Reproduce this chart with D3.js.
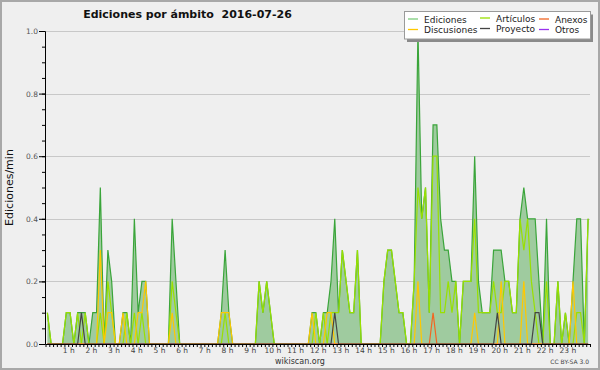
<!DOCTYPE html>
<html>
<head>
<meta charset="utf-8">
<script src="https://cdn.jsdelivr.net/npm/d3@7/dist/d3.min.js"></script>
<style>
  body { margin: 0; background: #fff; }
</style>
</head>
<body>
<div id="chart"></div>
<script>
const width = 600, height = 370;

// Edits per minute in 10-minute bins (144 bins = 24 h), 12 bins per row
const ediciones = [
  0.1, 0, 0, 0, 0, 0.1, 0.1, 0, 0.1, 0.1, 0.1, 0,
  0.1, 0.1, 0.5, 0, 0.3, 0.2, 0, 0, 0.1, 0.1, 0, 0.4,
  0.1, 0.2, 0.2, 0, 0, 0, 0, 0, 0, 0.4, 0.2, 0,
  0, 0, 0, 0, 0, 0, 0, 0, 0, 0, 0.1, 0.3,
  0.1, 0, 0, 0, 0, 0, 0, 0, 0.2, 0.1, 0.2, 0.1,
  0, 0, 0, 0, 0, 0, 0, 0, 0, 0, 0.1, 0.1,
  0, 0.1, 0.1, 0.2, 0.4, 0.1, 0.3, 0.2, 0.1, 0.1, 0.3, 0,
  0, 0, 0, 0, 0, 0.2, 0.3, 0.3, 0.2, 0.1, 0.1, 0,
  0, 0.2, 1.0, 0.4, 0.5, 0.1, 0.7, 0.7, 0.4, 0.3, 0.3, 0.2,
  0.2, 0, 0.2, 0.2, 0.2, 0.6, 0.2, 0.1, 0.1, 0.1, 0.3, 0.3,
  0.3, 0.2, 0.2, 0.1, 0.1, 0.4, 0.5, 0.4, 0.4, 0.4, 0.2, 0,
  0.4, 0, 0, 0.2, 0, 0.1, 0, 0.2, 0.4, 0.4, 0, 0.4
];
const articulos = [
  0.1, 0, 0, 0, 0, 0.1, 0.1, 0, 0.1, 0, 0.1, 0,
  0, 0, 0.1, 0, 0.2, 0.1, 0, 0, 0, 0.1, 0, 0.1,
  0, 0.1, 0, 0, 0, 0, 0, 0, 0, 0.2, 0.1, 0,
  0, 0, 0, 0, 0, 0, 0, 0, 0, 0, 0, 0.1,
  0, 0, 0, 0, 0, 0, 0, 0, 0.2, 0.1, 0.2, 0.1,
  0, 0, 0, 0, 0, 0, 0, 0, 0, 0, 0, 0.1,
  0, 0.1, 0, 0.1, 0.1, 0.1, 0.3, 0.2, 0.1, 0.1, 0.3, 0,
  0, 0, 0, 0, 0, 0.2, 0.3, 0.3, 0.2, 0.1, 0.1, 0,
  0, 0.2, 0.5, 0.4, 0.5, 0.1, 0.6, 0.6, 0.1, 0.1, 0.2, 0.1,
  0.2, 0, 0.2, 0.2, 0.2, 0.4, 0.1, 0.1, 0.1, 0.1, 0.2, 0.1,
  0.1, 0.2, 0.2, 0.1, 0.1, 0.4, 0.3, 0.4, 0.2, 0.1, 0, 0,
  0.2, 0, 0, 0.2, 0, 0.1, 0, 0, 0.1, 0.1, 0, 0.4
];
const discusiones = [
  0, 0, 0, 0, 0, 0, 0, 0, 0, 0, 0, 0,
  0, 0, 0.3, 0, 0.1, 0.1, 0, 0, 0.1, 0, 0, 0,
  0.1, 0.1, 0.2, 0, 0, 0, 0, 0, 0, 0.1, 0, 0,
  0, 0, 0, 0, 0, 0, 0, 0, 0, 0, 0.1, 0.1,
  0.1, 0, 0, 0, 0, 0, 0, 0, 0, 0, 0, 0,
  0, 0, 0, 0, 0, 0, 0, 0, 0, 0, 0.1, 0,
  0, 0, 0.1, 0.1, 0, 0, 0, 0, 0, 0, 0, 0,
  0, 0, 0, 0, 0, 0, 0, 0, 0, 0, 0, 0,
  0, 0, 0.2, 0, 0, 0, 0, 0, 0, 0, 0, 0,
  0, 0, 0, 0, 0, 0.1, 0, 0, 0, 0, 0, 0,
  0.2, 0, 0, 0, 0, 0, 0.2, 0, 0, 0, 0, 0,
  0, 0, 0, 0, 0, 0, 0, 0.2, 0, 0, 0, 0
];
const anexos = [
  0, 0, 0, 0, 0, 0, 0, 0, 0, 0, 0, 0,
  0, 0, 0, 0, 0, 0, 0, 0, 0, 0, 0, 0,
  0, 0, 0, 0, 0, 0, 0, 0, 0, 0, 0, 0,
  0, 0, 0, 0, 0, 0, 0, 0, 0, 0, 0, 0,
  0, 0, 0, 0, 0, 0, 0, 0, 0, 0, 0, 0,
  0, 0, 0, 0, 0, 0, 0, 0, 0, 0, 0, 0,
  0, 0, 0, 0, 0, 0, 0, 0, 0, 0, 0, 0,
  0, 0, 0, 0, 0, 0, 0, 0, 0, 0, 0, 0,
  0, 0, 0, 0, 0, 0, 0.1, 0, 0, 0, 0, 0,
  0, 0, 0, 0, 0, 0, 0, 0, 0, 0, 0, 0,
  0, 0, 0, 0, 0, 0, 0, 0, 0, 0, 0, 0,
  0, 0, 0, 0, 0, 0, 0, 0, 0, 0, 0, 0
];
const proyecto = [
  0, 0, 0, 0, 0, 0, 0, 0, 0, 0.1, 0, 0,
  0, 0, 0, 0, 0, 0, 0, 0, 0, 0, 0, 0,
  0, 0, 0, 0, 0, 0, 0, 0, 0, 0, 0, 0,
  0, 0, 0, 0, 0, 0, 0, 0, 0, 0, 0, 0,
  0, 0, 0, 0, 0, 0, 0, 0, 0, 0, 0, 0,
  0, 0, 0, 0, 0, 0, 0, 0, 0, 0, 0, 0,
  0, 0, 0, 0, 0.1, 0, 0, 0, 0, 0, 0, 0,
  0, 0, 0, 0, 0, 0, 0, 0, 0, 0, 0, 0,
  0, 0, 0, 0, 0, 0, 0, 0, 0, 0, 0, 0,
  0, 0, 0, 0, 0, 0, 0, 0, 0, 0, 0, 0.1,
  0, 0, 0, 0, 0, 0, 0, 0, 0, 0.1, 0.1, 0,
  0, 0, 0, 0, 0, 0, 0, 0, 0, 0, 0, 0
];
const otros = new Array(144).fill(0);

const seriesNames = ["Ediciones", "Artículos", "Anexos", "Discusiones", "Proyecto", "Otros"];
const hourLabels = d3.range(1, 24).map(h => h + " h");
const yTicks = [0, 0.2, 0.4, 0.6, 0.8, 1.0];

const svg = d3.select("#chart")
    .append("svg")
    .attr("width", width)
    .attr("height", height)
    .style("font-family", "'DejaVu Sans', sans-serif");

// Background and frame
svg.append("rect")
    .attr("x", 1).attr("y", 1)
    .attr("width", width - 2).attr("height", height - 2)
    .attr("fill", "#efefef")
    .attr("stroke", "#a8a8a8")
    .attr("stroke-width", 2);

const x = d3.scaleLinear().domain([0, 1440]).range([45.5, 590]);
const y = d3.scaleLinear().domain([0, 1]).range([344, 31]);
const xAt = (d, i) => x((i + 0.5) * 10);

// Grid lines
svg.append("g")
    .selectAll("line")
    .data(yTicks.filter(d => d > 0))
    .join("line")
    .attr("x1", x(0)).attr("x2", x(1440))
    .attr("y1", d => Math.round(y(d)) + 0.5)
    .attr("y2", d => Math.round(y(d)) + 0.5)
    .attr("stroke", "#c8c8c8");

svg.append("clipPath").attr("id", "plot-clip")
    .append("rect")
    .attr("x", x(0)).attr("y", 0)
    .attr("width", x(1440) - x(0)).attr("height", y(0));

const plot = svg.append("g").attr("clip-path", "url(#plot-clip)");

// Total edits: filled area
plot.append("path")
    .datum(ediciones)
    .attr("fill", "#9fcb9f")
    .attr("d", d3.area().x(xAt).y0(y(0)).y1(d => y(d)));

const line = d3.line().x(xAt).y(d => y(d));

const series = [
    { name: seriesNames[0], values: ediciones, color: "#3aa53a" },
    { name: seriesNames[5], values: otros, color: "#9933ee" },
    { name: seriesNames[1], values: articulos, color: "#99e000" },
    { name: seriesNames[3], values: discusiones, color: "#ffc800" },
    { name: seriesNames[2], values: anexos, color: "#f26522" },
    { name: seriesNames[4], values: proyecto, color: "#444444" }
];

plot.selectAll(".series")
    .data(series)
    .join("path")
    .attr("class", "series")
    .attr("fill", "none")
    .attr("stroke", d => d.color)
    .attr("stroke-width", 1.2)
    .attr("d", d => line(d.values));

// X axis: a tick every 10 minutes, label every hour
const xAxis = d3.axisBottom(x)
    .tickValues(d3.range(0, 1441, 10))
    .tickSize(3)
    .tickSizeOuter(0)
    .tickPadding(1)
    .tickFormat(d => (d % 60 === 0 && d > 0 && d < 1440) ? hourLabels[d / 60 - 1] : "");

const gx = svg.append("g")
    .attr("transform", `translate(0,${y(0)})`)
    .call(xAxis);
gx.attr("font-family", "'DejaVu Sans', sans-serif").attr("font-size", 7.5);
gx.selectAll("text").attr("fill", "#444");

// Y axis: minor ticks every 0.05, labelled ticks every 0.2
svg.append("g")
    .attr("transform", "translate(45,0)")
    .call(d3.axisLeft(y).tickValues(d3.range(0, 1.001, 0.05)).tickSize(3).tickSizeOuter(0).tickFormat(""));

const gy = svg.append("g")
    .attr("transform", "translate(45,0)")
    .call(d3.axisLeft(y).tickValues(yTicks).tickSize(6).tickSizeOuter(0).tickPadding(1).tickFormat(d3.format(".1f")));
gy.attr("font-family", "'DejaVu Sans', sans-serif").attr("font-size", 7.5);
gy.selectAll("text").attr("fill", "#555");

// Titles
svg.append("text")
    .attr("x", 187.5).attr("y", 17.7)
    .attr("text-anchor", "middle")
    .attr("font-size", 11)
    .attr("font-weight", "bold")
    .attr("fill", "#111")
    .style("white-space", "pre")
    .text("Ediciones por ámbito  2016-07-26");

svg.append("text")
    .attr("transform", "translate(13,187.5) rotate(-90)")
    .attr("text-anchor", "middle")
    .attr("font-size", 11)
    .attr("fill", "#111")
    .text("Ediciones/min");

svg.append("text")
    .attr("x", 300).attr("y", 364)
    .attr("text-anchor", "middle")
    .attr("font-size", 8)
    .attr("fill", "#333")
    .text("wikiscan.org");

svg.append("text")
    .attr("x", 589).attr("y", 364)
    .attr("text-anchor", "end")
    .attr("font-size", 6)
    .attr("fill", "#444")
    .text("CC BY-SA 3.0");

// Legend box with shadow
const legend = svg.append("g");
legend.append("rect")
    .attr("x", 407).attr("y", 14.5)
    .attr("width", 186).attr("height", 27.5)
    .attr("fill", "#8a8a8a");
legend.append("rect")
    .attr("x", 404.5).attr("y", 11.5)
    .attr("width", 186).attr("height", 27.5)
    .attr("fill", "#ffffff")
    .attr("stroke", "#9a9a9a")
    .attr("stroke-width", 1);

const legendCols = [408, 480, 539];
const legendRows = [22.5, 33];
const legendColor = {};
series.forEach(s => legendColor[s.name] = s.color);
legendColor[seriesNames[0]] = "#7ccc7c";

const items = legend.selectAll(".item")
    .data(seriesNames)
    .join("g")
    .attr("class", "item")
    .attr("transform", (d, i) => `translate(${legendCols[i % 3]},${legendRows[Math.floor(i / 3)] - (i % 3 === 1 ? 1 : 0)})`);

items.append("line")
    .attr("x1", 0).attr("x2", 10)
    .attr("y1", -3.5).attr("y2", -3.5)
    .attr("stroke", d => legendColor[d])
    .attr("stroke-width", 1.3);

items.append("text")
    .attr("x", 16)
    .attr("font-size", 9)
    .attr("fill", "#222")
    .text(d => d);
</script>
</body>
</html>
